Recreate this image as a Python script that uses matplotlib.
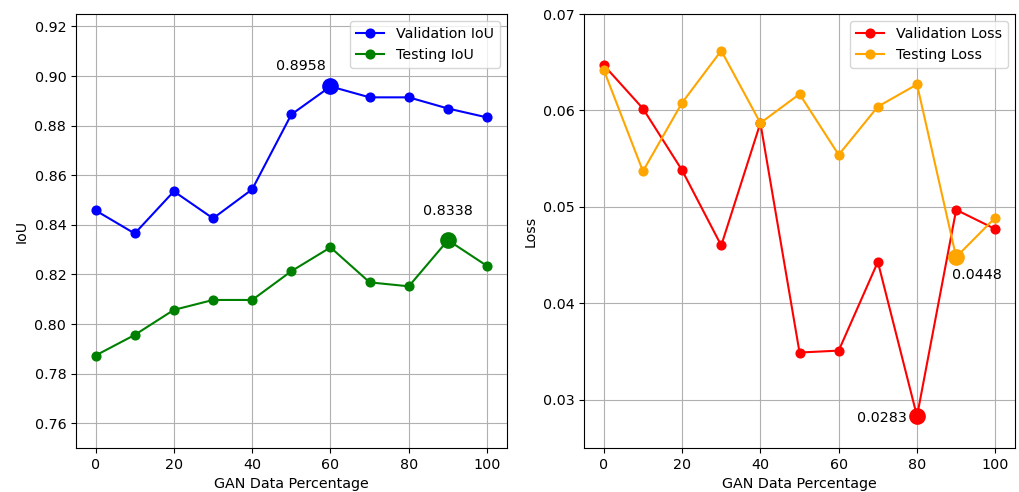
import matplotlib.pyplot as plt

plt.rcParams["font.size"] = 10.3

gan_pct = [0, 10, 20, 30, 40, 50, 60, 70, 80, 90, 100]

val_iou = [0.8458, 0.8365, 0.8535, 0.8426, 0.8543, 0.8845, 0.8958, 0.8914, 0.8914, 0.8869, 0.8833]
test_iou = [0.7873, 0.7956, 0.8057, 0.8097, 0.8097, 0.8213, 0.8309, 0.8168, 0.8152, 0.8338, 0.8234]

val_loss = [0.0647, 0.0602, 0.0538, 0.0460, 0.0587, 0.0349, 0.0351, 0.0443, 0.0283, 0.0497, 0.0477]
test_loss = [0.0642, 0.0537, 0.0608, 0.0662, 0.0587, 0.0617, 0.0554, 0.0604, 0.0627, 0.0448, 0.0489]

fig, (ax1, ax2) = plt.subplots(1, 2, figsize=(10.2, 4.92), dpi=100)
fig.subplots_adjust(left=0.0745, right=0.995, top=0.9715, bottom=0.0894, wspace=0.18)

ms = 6.3
big = 11

# --- IoU ---
ax1.plot(gan_pct, val_iou, color="blue", marker="o", ms=ms, label="Validation IoU")
ax1.plot(gan_pct, test_iou, color="green", marker="o", ms=ms, label="Testing IoU")
i = val_iou.index(max(val_iou))
ax1.plot(gan_pct[i], val_iou[i], "o", color="blue", markersize=big)
ax1.annotate(f"{val_iou[i]:.4f}", (gan_pct[i], val_iou[i]), textcoords="offset points",
             xytext=(-3, 10), ha="right", va="bottom")
j = test_iou.index(max(test_iou))
ax1.plot(gan_pct[j], test_iou[j], "o", color="green", markersize=big)
ax1.annotate(f"{test_iou[j]:.4f}", (gan_pct[j], test_iou[j]), textcoords="offset points",
             xytext=(0, 16), ha="center", va="bottom")
ax1.set_ylim(0.75, 0.925)
ax1.set_xlabel("GAN Data Percentage")
ax1.set_ylabel("IoU")
ax1.grid(True)
ax1.legend(loc="upper right")

# --- Loss ---
ax2.plot(gan_pct, val_loss, color="red", marker="o", ms=ms, label="Validation Loss")
ax2.plot(gan_pct, test_loss, color="orange", marker="o", ms=ms, label="Testing Loss")
i = val_loss.index(min(val_loss))
ax2.plot(gan_pct[i], val_loss[i], "o", color="red", markersize=big)
ax2.annotate(f"{val_loss[i]:.4f}", (gan_pct[i], val_loss[i]), textcoords="offset points",
             xytext=(-7, -1), ha="right", va="center")
j = test_loss.index(min(test_loss))
ax2.plot(gan_pct[j], test_loss[j], "o", color="orange", markersize=big)
ax2.annotate(f"{test_loss[j]:.4f}", (gan_pct[j], test_loss[j]), textcoords="offset points",
             xytext=(-3, -8), ha="left", va="top")
ax2.set_ylim(0.025, 0.07)
ax2.set_xlabel("GAN Data Percentage")
ax2.set_ylabel("Loss")
ax2.grid(True)
ax2.legend(loc="upper right")

plt.savefig("out.png", dpi=100)
